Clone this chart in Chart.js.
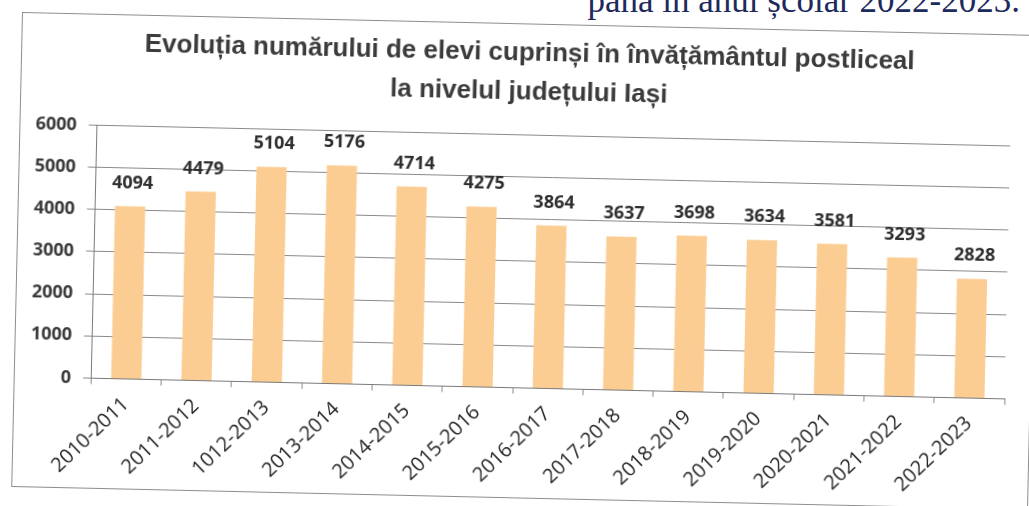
<!DOCTYPE html>
<html lang="ro">
<head>
<meta charset="utf-8">
<title>Evoluția numărului de elevi - învățământ postliceal, județul Iași</title>
<script src="https://cdn.jsdelivr.net/npm/chart.js@4.4.1/dist/chart.umd.min.js"></script>
<style>
  html, body { margin: 0; padding: 0; background: #fff; overflow: hidden; }
  body { width: 1029px; height: 506px; position: relative; }
  #caption {
    position: absolute; right: 9px; top: -17px;
    font: 35px/35px "Liberation Serif", "Times New Roman", serif;
    color: #1d2a5c; white-space: nowrap;
  }
  #frame {
    position: absolute; left: 22px; top: 12px;
    width: 1017px; height: 475px; box-sizing: border-box;
    border: 1px solid #8e8e8e; background: #fff;
    transform-origin: 0 0; transform: rotate(1.3deg);
  }
  #frame canvas { display: block; }
</style>
</head>
<body>
<div id="caption">până în anul școlar 2022-2023.</div>
<div id="frame"><canvas id="chart" width="1015" height="473"></canvas></div>
<script>
"use strict";

// Elevi în învățământul postliceal, județul Iași, pe ani școlari.
const SCHOOL_YEARS = [
  "2010-2011", "2011-2012", "1012-2013", "2013-2014", "2014-2015", "2015-2016", "2016-2017",
  "2017-2018", "2018-2019", "2019-2020", "2020-2021", "2021-2022", "2022-2023",
];
const STUDENTS = [4094, 4479, 5104, 5176, 4714, 4275, 3864, 3637, 3698, 3634, 3581, 3293, 2828];
const Y_MAX = 6000;
const Y_STEP = 1000;
const TITLE_LINES = [
  "Evoluția numărului de elevi cuprinși în învățământul postliceal",
  "la nivelul județului Iași",
];

const BAR_COLOR = "#fbcd93";
const GRID_COLOR = "#8a8a8a";

// number above every bar
const valueLabels = {
  id: "valueLabels",
  afterDatasetsDraw(chart) {
    const ctx = chart.ctx;
    const meta = chart.getDatasetMeta(0);
    ctx.save();
    ctx.font = "bold 18px 'Open Sans'";
    ctx.fillStyle = "#2e2e2e";
    ctx.textAlign = "center";
    ctx.textBaseline = "middle";
    meta.data.forEach((bar, i) => ctx.fillText(String(STUDENTS[i]), bar.x + 2, bar.y - 23));
    ctx.restore();
  },
};

new Chart(document.getElementById("chart"), {
  type: "bar",
  data: {
    labels: SCHOOL_YEARS,
    datasets: [{
      data: STUDENTS,
      backgroundColor: BAR_COLOR,
      barPercentage: 0.43,
      categoryPercentage: 1,
    }],
  },
  options: {
    responsive: false,
    animation: false,
    layout: { padding: 0 },
    plugins: {
      legend: { display: false },
      tooltip: { enabled: false },
      title: {
        display: true,
        text: TITLE_LINES,
        color: "#3b3b3b",
        font: { family: "'Liberation Sans', Arial, sans-serif", size: 26, weight: "bold", lineHeight: 1.5 },
        padding: { top: 9.5, bottom: 22.9 },
      },
    },
    scales: {
      x: {
        grid: { display: true, drawOnChartArea: false, tickLength: 6, color: GRID_COLOR, offset: true },
        border: { color: "#7a7a7a" },
        ticks: {
          autoSkip: false, minRotation: 45, maxRotation: 45, padding: 8,
          color: "#262626", font: { family: "'Open Sans'", size: 20 },
        },
        afterFit(scale) { scale.height = 109.6; },
      },
      y: {
        min: 0,
        max: Y_MAX,
        grid: { color: GRID_COLOR, tickLength: 8 },
        border: { color: "#7a7a7a" },
        ticks: {
          stepSize: Y_STEP, padding: 12,
          callback: (v) => String(v),
          color: "#3a3a3a", font: { family: "'Open Sans'", size: 18, weight: "bold" },
        },
        afterFit(scale) { scale.width = 76.4; },
      },
      // empty strip on the right so the plot ends short of the frame while the title stays centred
      spacer: {
        position: "right",
        grid: { display: false, drawTicks: false },
        border: { display: false },
        ticks: { display: false },
        afterFit(scale) { scale.width = 25; },
      },
    },
  },
  plugins: [valueLabels],
});
</script>
</body>
</html>
